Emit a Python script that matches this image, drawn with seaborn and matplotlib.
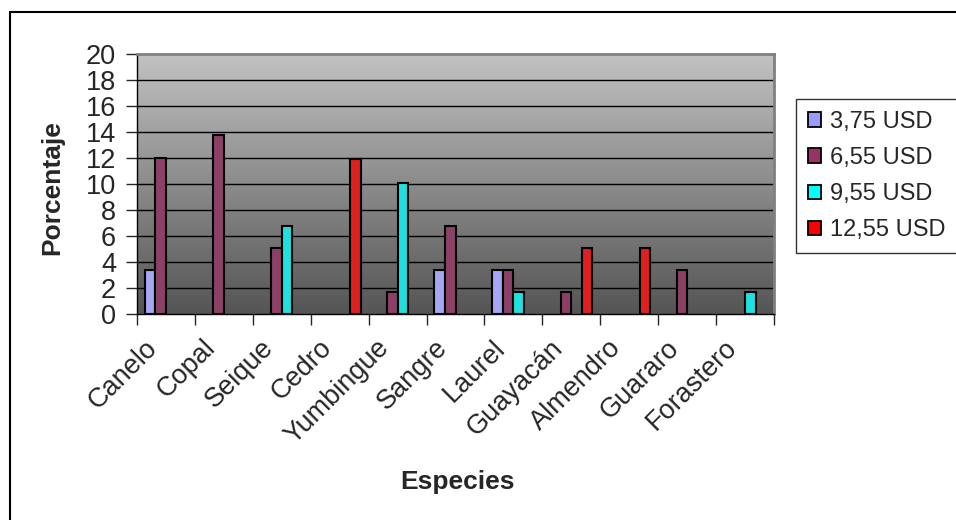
import numpy as np
import pandas as pd
import matplotlib.pyplot as plt
import matplotlib.transforms as mtransforms
from matplotlib.patches import Patch
from matplotlib.lines import Line2D
import seaborn as sns

# datos
especies = ['Canelo', 'Copal', 'Seique', 'Cedro', 'Yumbingue', 'Sangre',
            'Laurel', 'Guayacán', 'Almendro', 'Guararo', 'Forastero']
precios = ['3,75 USD', '6,55 USD', '9,55 USD', '12,55 USD']
usd_3_75 = [3.4, 0, 0, 0, 0, 3.4, 3.4, 0, 0, 0, 0]
usd_6_55 = [12.0, 13.8, 5.1, 0, 1.7, 6.8, 3.4, 1.7, 0, 3.4, 0]
usd_9_55 = [0, 0, 6.8, 0, 10.1, 0, 1.7, 0, 0, 0, 1.7]
usd_12_55 = [0, 0, 0, 11.9, 0, 0, 0, 5.1, 5.1, 0, 0]
colores = ['#9999FF', '#993366', '#00FFFF', '#FF0000']

series = [usd_3_75, usd_6_55, usd_9_55, usd_12_55]
rows = []
for precio, vals in zip(precios, series):
    for esp, v in zip(especies, vals):
        if v > 0:
            rows.append({'especie': esp, 'precio': precio, 'pct': v})
df = pd.DataFrame(rows)

sns.set_style('white')
plt.rcParams['font.family'] = ['Liberation Sans', 'DejaVu Sans']
fs_leg = 17
fs_tick = 19.5
fs_lab = 19

fig = plt.figure(figsize=(9.56, 5.2), dpi=100)
ax = fig.add_axes([137 / 956, 1 - 314 / 520, (774 - 137) / 956, (314 - 54) / 520])

# fondo degradado del area de trazado (oscuro abajo, claro arriba)
grad = np.linspace(0, 1, 256).reshape(-1, 1)
cmap = plt.matplotlib.colors.LinearSegmentedColormap.from_list('g', ['#555555', '#C2C2C2'])
ax.imshow(grad, extent=(-0.5, 10.5, 0, 20), origin='lower', aspect='auto', cmap=cmap, zorder=0)

sns.barplot(data=df, x='especie', y='pct', hue='precio', order=especies,
            hue_order=precios, palette=colores, width=4 / 5.5,
            edgecolor='black', linewidth=1.5, legend=False, ax=ax, zorder=3)

ax.set_xlim(-0.5, 10.5)
ax.set_ylim(0, 20)
ax.set_yticks(range(0, 21, 2))
for y in range(2, 20, 2):
    ax.axhline(y, color='black', lw=1, zorder=1)

ax.tick_params(axis='y', length=8, width=1, pad=7, labelsize=fs_tick, direction='out', left=True)
ax.set_xticks(range(len(especies)))
ax.set_xticklabels(especies, rotation=45, ha='right', va='top', fontsize=fs_tick)
ax.tick_params(axis='x', which='major', length=0, pad=15)
ax.set_xticks(np.arange(-0.5, 11, 1), minor=True)
ax.tick_params(axis='x', which='minor', length=8, width=1, direction='out', bottom=True)
offset = mtransforms.ScaledTranslation(-3 / 100, 0, fig.dpi_scale_trans)
for lab in ax.get_xticklabels():
    lab.set_transform(lab.get_transform() + offset)

ax.set_xlabel('')
ax.set_ylabel('')
for s in ['left', 'bottom']:
    ax.spines[s].set_color('black')
    ax.spines[s].set_linewidth(1)
for s in ['top', 'right']:
    ax.spines[s].set_color('#808080')
    ax.spines[s].set_linewidth(2)

fig.text(52 / 956, 1 - 188 / 520, 'Porcentaje', rotation=90, ha='center', va='center',
         fontsize=fs_lab, fontweight='bold')
fig.text(457 / 956, 1 - 482 / 520, 'Especies', ha='center', va='center',
         fontsize=fs_lab, fontweight='bold')

handles = [Patch(facecolor=c, edgecolor='black', linewidth=1.3) for c in colores]
leg = fig.legend(handles, precios, loc='upper left', bbox_to_anchor=(796 / 956, 1 - 99 / 520),
                 fontsize=fs_leg, frameon=True, fancybox=False, edgecolor='black',
                 handlelength=0.57, handleheight=0.57, handletextpad=0.35,
                 labelspacing=0.6, borderpad=0.5, borderaxespad=0)
leg.get_frame().set_linewidth(1)

# marco exterior del grafico
fig.add_artist(Line2D([10 / 956, 10 / 956], [0, 1 - 12 / 520], color='black', lw=1.5,
                      transform=fig.transFigure))
fig.add_artist(Line2D([10 / 956, 1], [1 - 12 / 520, 1 - 12 / 520], color='black', lw=1.5,
                      transform=fig.transFigure))

fig.savefig('out.png', dpi=100)
